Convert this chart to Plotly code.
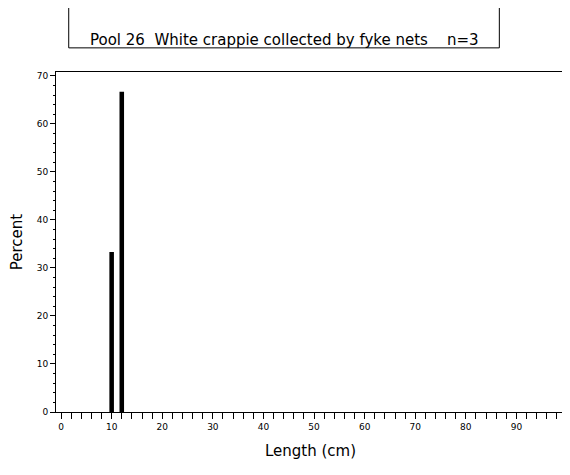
import plotly.graph_objects as go

# Length-frequency data
lengths = [10, 12]
percents = [33.33, 66.67]
x_ticks = [0, 10, 20, 30, 40, 50, 60, 70, 80, 90]
y_ticks = [0, 10, 20, 30, 40, 50, 60, 70]

fig = go.Figure()
fig.add_trace(go.Bar(x=lengths, y=percents, width=0.9, marker=dict(color='black', line=dict(width=0))))

fig.update_layout(
    width=562, height=467, plot_bgcolor='white', paper_bgcolor='white',
    margin=dict(l=47, r=4, t=64, b=63), showlegend=False,
    font=dict(family='DejaVu Sans', color='black'),
    xaxis=dict(range=[-1, 99.6], tickvals=x_ticks, ticks='outside', ticklen=6, tickcolor='black',
               showgrid=False, zeroline=False, showline=True, linecolor='black', mirror=True,
               tickfont=dict(size=9), minor=dict(dtick=2, tick0=0, ticks='outside', ticklen=6, tickcolor='black'),
               title=dict(text='Length (cm)', font=dict(size=15), standoff=14)),
    yaxis=dict(range=[0, 70.8], tickvals=y_ticks, ticks='outside', ticklen=5, tickcolor='black',
               showgrid=False, zeroline=False, showline=True, linecolor='black', mirror=True,
               tickfont=dict(size=9), minor=dict(dtick=2, tick0=0, ticks='outside', ticklen=2, tickcolor='black'),
               title=dict(text='Percent', font=dict(size=15), standoff=14)),
    shapes=[dict(type='rect', xref='paper', yref='paper', x0=0.025, x1=0.871, y0=1.071, y1=1.197,
                 line=dict(color='black', width=1))],
    annotations=[dict(text='Pool 26  White crappie collected by fyke nets    n=3', xref='paper', yref='paper',
                      x=0.448, y=1.126, showarrow=False, font=dict(size=15))],
)

fig.write_html('out.html')
